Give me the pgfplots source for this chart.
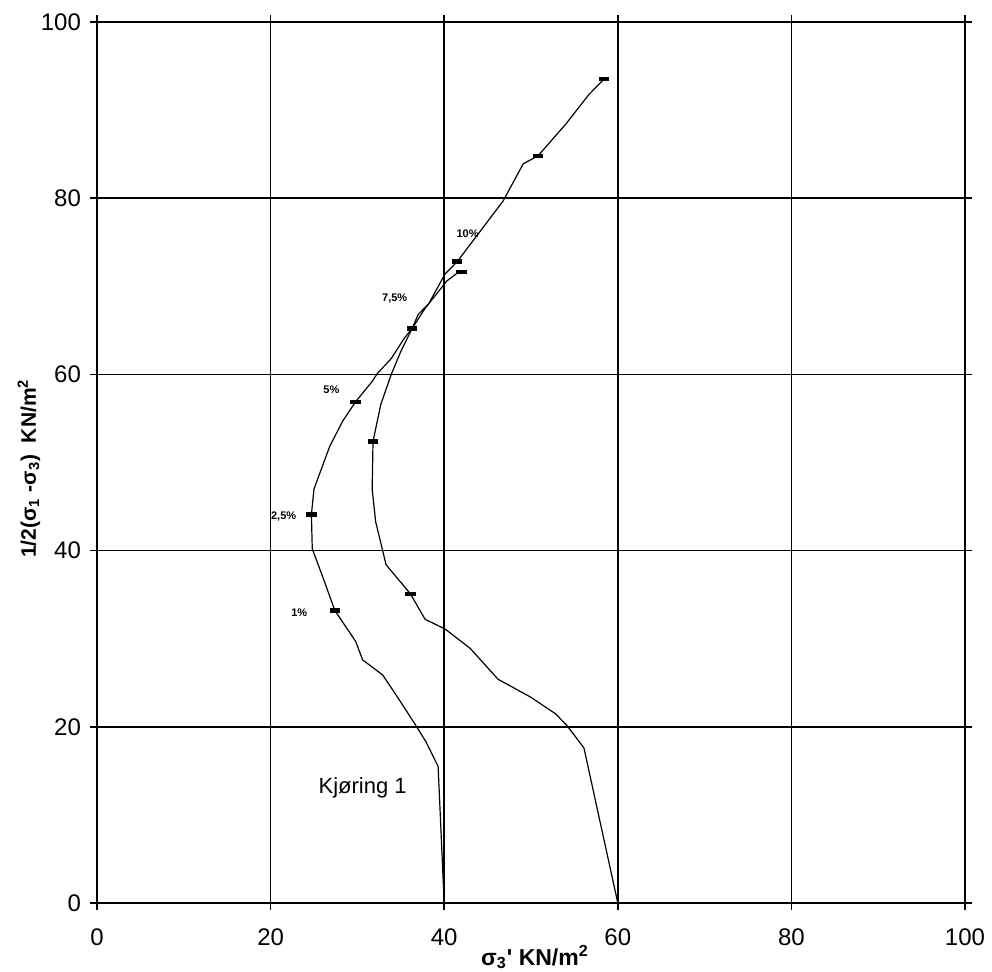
\documentclass[border=0pt]{standalone}
\usepackage{pgfplots}
\pgfplotsset{compat=1.18}
\usepackage{fontspec}
\setmainfont{Liberation Sans}
\begin{document}
\begin{tikzpicture}
\begin{axis}[
  scale only axis,
  width=434pt, height=440.5pt,
  xmin=0, xmax=100, ymin=0, ymax=100,
  xtick={0,20,...,100}, ytick={0,20,...,100},
  grid=major,
  major grid style={black, line width=0.8pt},
  axis line style={black, line width=1.4pt},
  tick style={black, line width=0.8pt},
  tick align=outside,
  major tick length=3.5pt,
  tick label style={font=\fontsize{12}{13}\selectfont},
  /pgf/number format/assume math mode=true,
  xticklabel style={yshift=-6pt},
  yticklabel style={xshift=-1pt},
  xlabel={\textbf{σ\textsubscript{3}\textquotesingle\ KN/m\textsuperscript{2}}},
  ylabel={\textbf{1/2(σ\textsubscript{1} -σ\textsubscript{3})\ \ KN/m\textsuperscript{2}}},
  xlabel style={font=\fontsize{11.5}{12}\selectfont, at={([xshift=2pt,yshift=-27pt]axis description cs:0.5,0)}, anchor=center},
  ylabel style={font=\fontsize{10.5}{11}\selectfont, at={([xshift=-34pt,yshift=-3pt]axis description cs:0,0.5)}, anchor=center},
  clip=false,
]
\coordinate (ll) at (rel axis cs:0,0);
\coordinate (ur) at (rel axis cs:1,1);
% Curve A (starts at 40,0)
\addplot[black, line width=0.6pt, mark=none] coordinates {
(40,0) (39.3,15.5) (37.9,18.3) (36.7,20.2) (34.6,23.4) (32.9,25.9) (30.6,27.6)
(29.8,29.7) (27.4,33.2) (26.2,36.5) (24.8,40.2) (24.7,44.1) (25,47) (26.8,51.8)
(28.3,54.7) (29.8,56.9) (31.7,59.2) (32.3,60.1) (33.9,61.8) (35.4,64.1) (36.3,65.2)
(37,66.8) (38.2,68) (40.1,71.4) (41.5,72.8) (46.8,79.7) (49.1,83.9) (50.8,84.8)
(54,88.4) (56.7,91.8) (58.4,93.5)
};
% Curve B (starts at 60,0)
\addplot[black, line width=0.6pt, mark=none] coordinates {
(60,0) (56.1,17.6) (54.1,20.2) (52.8,21.5) (49.9,23.4) (46.2,25.4) (43,28.9)
(40.1,31.1) (37.8,32.2) (36.1,35.1) (33.3,38.4) (32.1,43.3) (31.7,47) (31.8,52.4)
(32.7,56.6) (33.9,60) (35,62.6) (36.3,65.2) (37.8,67.5) (40.3,70.6) (41.5,71.5) (42,71.6)
};
% markers
\addplot[only marks, mark=-, mark size=2.6pt, mark options={line width=2.2pt, black}] coordinates {
(27.4,33.2) (24.7,44.1) (29.8,56.9) (36.3,65.2) (41.5,72.8) (50.8,84.8) (58.4,93.5)
(36.1,35.1) (31.8,52.4) (42,71.6)
};
\node[font=\bfseries\fontsize{5.5}{6}\selectfont] at (axis cs:23.3,32.9) {1\%};
\node[font=\bfseries\fontsize{5.5}{6}\selectfont] at (axis cs:21.5,43.9) {2,5\%};
\node[font=\bfseries\fontsize{5.5}{6}\selectfont] at (axis cs:27,58.3) {5\%};
\node[font=\bfseries\fontsize{5.5}{6}\selectfont] at (axis cs:34.3,68.6) {7,5\%};
\node[font=\bfseries\fontsize{5.5}{6}\selectfont] at (axis cs:42.7,76) {10\%};
\node[font=\fontsize{11}{12}\selectfont] at (axis cs:30.6,13.1) {Kjøring 1};
\end{axis}
\pgfresetboundingbox
\path ([shift={(-48.5pt,-34pt)}]ll) rectangle ([shift={(13.5pt,11pt)}]ur);
\end{tikzpicture}
\end{document}
